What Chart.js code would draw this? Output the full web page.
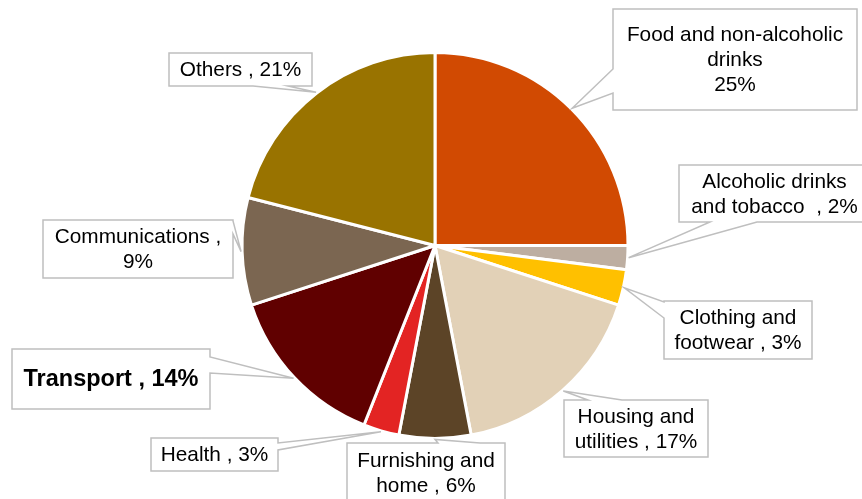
<!DOCTYPE html>
<html>
<head>
<meta charset="utf-8">
<script src="https://cdn.jsdelivr.net/npm/chart.js@4/dist/chart.umd.min.js"></script>
<style>
  html, body { margin: 0; padding: 0; background: #ffffff; }
  #wrap { width: 862px; height: 499px; }
</style>
</head>
<body>
<div id="wrap"><canvas id="c" width="862" height="499"></canvas></div>
<script>
// ---- Data ----
const categories = [
  "Food and non-alcoholic drinks",
  "Alcoholic drinks and tobacco",
  "Clothing and footwear",
  "Housing and utilities",
  "Furnishing and home",
  "Health",
  "Transport",
  "Communications",
  "Others"
];
const shares = [25, 2, 3, 17, 6, 3, 14, 9, 21];
// Label text lines; {v} is replaced by the share value
const labelLines = [
  ["Food and non-alcoholic", "drinks", "{v}%"],
  ["Alcoholic drinks", "and tobacco  , {v}%"],
  ["Clothing and", "footwear , {v}%"],
  ["Housing and", "utilities , {v}%"],
  ["Furnishing and", "home , {v}%"],
  ["Health , {v}%"],
  ["Transport , {v}%"],
  ["Communications ,", "{v}%"],
  ["Others , {v}%"]
];

// ---- Styles ----
const sliceColors = ["#D14A02", "#BDAEA1", "#FFC000", "#E2D1B7", "#5C4427", "#E32423", "#600000", "#7B6651", "#997300"];

// ---- Callout layout (box x, y, w, h; edge where the pointer starts; pointer base coords on that edge) ----
const calloutLayout = [
  { box: [613, 9, 244, 101], edge: "left", base: [69, 93] },
  { box: [679, 165, 191, 57], edge: "bottom", base: [710, 757] },
  { box: [664, 301, 148, 58], edge: "left", base: [302, 318] },
  { box: [564, 400, 144, 57], edge: "top", base: [588, 622] },
  { box: [347, 443, 158, 60], edge: "top", base: [438, 480] },
  { box: [151, 438, 127, 33], edge: "right", base: [443, 450] },
  { box: [12, 349, 198, 60], edge: "right", base: [357, 373], bold: true, size: 23.5 },
  { box: [43, 220, 190, 58], edge: "right", base: [221, 234] },
  { box: [169, 53, 143, 33], edge: "bottom", base: [253, 288] }
];

const FONT = '"Liberation Sans", Arial, sans-serif';

const calloutPlugin = {
  id: "callouts",
  afterDatasetsDraw(chart) {
    const ctx = chart.ctx;
    const meta = chart.getDatasetMeta(0);
    meta.data.forEach((arc, i) => {
      const L = calloutLayout[i];
      const mid = (arc.startAngle + arc.endAngle) / 2;
      const r = arc.outerRadius + 1;
      const tip = [arc.x + Math.cos(mid) * r, arc.y + Math.sin(mid) * r];
      const [bx, by, bw, bh] = L.box;
      const TL = [bx, by], TR = [bx + bw, by], BR = [bx + bw, by + bh], BL = [bx, by + bh];
      const b = L.base.slice();
      const pts = [TL];
      if (L.edge === "top") { b.sort((a, c) => a - c); pts.push([b[0], by], tip, [b[1], by]); }
      pts.push(TR);
      if (L.edge === "right") { b.sort((a, c) => a - c); pts.push([bx + bw, b[0]], tip, [bx + bw, b[1]]); }
      pts.push(BR);
      if (L.edge === "bottom") { b.sort((a, c) => c - a); pts.push([b[0], by + bh], tip, [b[1], by + bh]); }
      pts.push(BL);
      if (L.edge === "left") { b.sort((a, c) => c - a); pts.push([bx, b[0]], tip, [bx, b[1]]); }

      ctx.save();
      ctx.beginPath();
      pts.forEach((p, k) => k === 0 ? ctx.moveTo(p[0], p[1]) : ctx.lineTo(p[0], p[1]));
      ctx.closePath();
      ctx.fillStyle = "#ffffff";
      ctx.fill();
      ctx.lineWidth = 1.5;
      ctx.strokeStyle = "#BFBFBF";
      ctx.lineJoin = "miter";
      ctx.stroke();

      const size = L.size || 20.8;
      ctx.font = (L.bold ? "bold " : "") + size + "px " + FONT;
      ctx.fillStyle = "#000000";
      ctx.textAlign = "center";
      ctx.textBaseline = "middle";
      const lines = labelLines[i].map(s => s.replace("{v}", shares[i]));
      const lh = 25;
      const cx = bx + bw / 2;
      const cy = by + bh / 2;
      const y0 = cy - (lines.length - 1) * lh / 2;
      lines.forEach((t, k) => ctx.fillText(t, cx, y0 + k * lh + 1));
      ctx.restore();
    });
  }
};

new Chart(document.getElementById("c"), {
  type: "pie",
  data: {
    labels: categories,
    datasets: [{
      data: shares,
      backgroundColor: sliceColors,
      borderColor: "#ffffff",
      borderWidth: 3,
      radius: 193
    }]
  },
  options: {
    responsive: false,
    animation: false,
    layout: { padding: { left: 243, right: 235, top: 53, bottom: 61 } },
    plugins: {
      legend: { display: false },
      tooltip: { enabled: false },
      title: { display: false }
    }
  },
  plugins: [calloutPlugin]
});
</script>
</body>
</html>
